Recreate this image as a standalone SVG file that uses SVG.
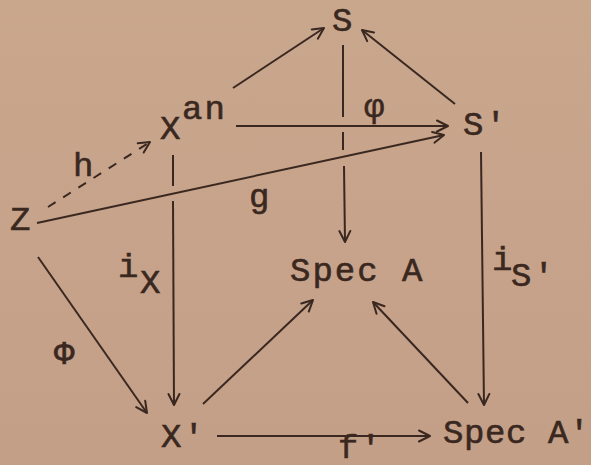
<svg xmlns="http://www.w3.org/2000/svg" width="591" height="465" viewBox="0 0 591 465">
<defs>
<marker id="ah" markerUnits="userSpaceOnUse" markerWidth="20" markerHeight="20" viewBox="-14 -10 20 20" refX="0" refY="0" orient="auto">
<path d="M-11,-5.5 L0,0 L-11,5.5" fill="none" stroke="#3a2820" stroke-width="2" stroke-linecap="round" stroke-linejoin="round"/>
</marker>
<linearGradient id="bg" x1="0" y1="0" x2="0" y2="1">
<stop offset="0" stop-color="#c9a78d"/>
<stop offset="1" stop-color="#c39f87"/>
</linearGradient>
</defs>
<style>
text{font-family:"Liberation Mono","Courier New",monospace;font-size:34px;letter-spacing:2px;fill:#3a2820;stroke:#3a2820;stroke-width:0.6}
.c{fill:none;stroke:#3a2820;stroke-width:2}
.a{marker-end:url(#ah)}
.d{stroke-dasharray:9 9}
</style>
<rect x="0" y="0" width="591" height="465" fill="url(#bg)"/>
<g id="connectors">
<line class="c a" x1="233" y1="88" x2="324" y2="28"/>
<line class="c a" x1="455" y1="104" x2="362" y2="30"/>
<line class="c a" x1="236" y1="126" x2="448" y2="126"/>
<line class="c a" x1="37" y1="223" x2="444" y2="135"/>
<line class="c a d" x1="48" y1="207" x2="150" y2="142"/>
<line class="c" x1="343" y1="45" x2="343" y2="117"/>
<line class="c" x1="343" y1="132" x2="343" y2="150"/>
<line class="c a" x1="344" y1="166" x2="345" y2="242"/>
<line class="c" x1="173" y1="155" x2="173" y2="186"/>
<line class="c a" x1="173" y1="201" x2="174" y2="405"/>
<line class="c a" x1="481" y1="152" x2="484" y2="405"/>
<line class="c a" x1="38" y1="257" x2="147" y2="413"/>
<line class="c a" x1="203" y1="404" x2="313" y2="300"/>
<line class="c a" x1="468" y1="403" x2="373" y2="302"/>
<line class="c a" x1="217" y1="436" x2="430" y2="436"/>
</g>
<g id="S"><text x="332" y="31">S</text></g>
<g id="Xan"><text x="160" y="139">X<tspan x="182" y="119">an</tspan></text></g>
<g id="Sp"><text x="463" y="135">S'</text></g>
<g id="Z"><text x="10" y="230">Z</text></g>
<g id="SpecA"><text x="290" y="281">Spec A</text></g>
<g id="Xp"><text x="161" y="447">X'</text></g>
<g id="SpecAp"><text x="443" y="443" style="letter-spacing:0.6px">Spec A'</text></g>
<g id="labels">
<text x="118" y="277">i<tspan x="140" y="293">X</tspan></text>
<text x="492" y="270">i<tspan x="511" y="286">S'</tspan></text>
<text x="364" y="117">φ</text>
<text x="249" y="207">g</text>
<text x="73" y="176">h</text>
<text x="54" y="364">Φ</text>
<text x="338" y="458">f'</text>
</g>
</svg>
